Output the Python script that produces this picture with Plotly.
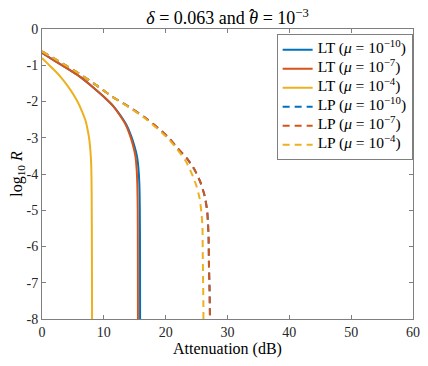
import plotly.graph_objects as go

# 값은 그림에서 읽음
lt_blue_x = [0, 2, 4, 6, 8, 10, 11.5, 12.5, 13.6, 14.35, 14.9, 15.35, 15.6, 15.75, 15.82, 15.85, 15.87]
lt_blue_y = [-0.66, -0.87, -1.08, -1.30, -1.57, -1.87, -2.12, -2.34, -2.63, -2.92, -3.2, -3.5, -3.85, -4.3, -5, -6, -8.5]

lt_red_x = [0, 2, 4, 6, 8, 10, 11.5, 12.5, 13.5, 14.2, 14.7, 15.1, 15.3, 15.42, 15.48, 15.5, 15.52]
lt_red_y = [-0.66, -0.87, -1.08, -1.30, -1.57, -1.87, -2.13, -2.36, -2.63, -2.92, -3.2, -3.5, -3.85, -4.3, -5, -6, -8.5]

lt_yel_x = [0, 1, 2.25, 3.3, 4.4, 5.3, 6.0, 6.6, 7.06, 7.4, 7.65, 7.85, 7.97, 8.03, 8.07, 8.1]
lt_yel_y = [-0.8, -0.97, -1.18, -1.38, -1.63, -1.87, -2.09, -2.33, -2.54, -2.8, -3.05, -3.4, -3.8, -4.5, -6, -8.5]

lp_red_x = [0, 3.3, 6, 8.7, 11.3, 14, 16.7, 19.4, 20.7, 22.0, 23.5, 24.7, 25.6, 26.3, 26.7, 26.85, 26.95, 27.0, 27.1, 27.2]
lp_red_y = [-0.62, -0.95, -1.23, -1.54, -1.86, -2.14, -2.45, -2.82, -3.04, -3.3, -3.58, -3.89, -4.22, -4.6, -5.0, -5.37, -5.8, -6.5, -7.2, -8.5]

lp_blue_x = lp_red_x
lp_blue_y = lp_red_y

lp_yel_x = [0, 3.3, 6, 8.7, 11.3, 14, 16.7, 19.4, 20.7, 21.9, 23.2, 24.2, 25.0, 25.5, 25.8, 25.95, 26.0, 26.1, 26.12]
lp_yel_y = [-0.62, -0.95, -1.23, -1.54, -1.86, -2.15, -2.47, -2.86, -3.08, -3.33, -3.63, -3.98, -4.34, -4.68, -5.09, -5.46, -6.22, -7.67, -8.5]

y_ticks = [0, -1, -2, -3, -4, -5, -6, -7, -8]
y_labels = ['0', '-1', '-2', '-3', '-4', '-5', '-6', '-7', '-8']
x_ticks = [0, 10, 20, 30, 40, 50, 60]

BLUE = '#0072BD'
RED = '#D95319'
YEL = '#EDB120'
FONT = 'Liberation Serif'


def leg(s):
    # 행 높이는 작은 글꼴로, 글자는 크게
    return '<span style="font-size:15.5px">' + s + '</span>'


series = [
    (lt_blue_x, lt_blue_y, BLUE, 'solid', 'LT (<i>μ</i> = 10<sup>−10</sup>)'),
    (lt_red_x, lt_red_y, RED, 'solid', 'LT (<i>μ</i> = 10<sup>−7</sup>)'),
    (lt_yel_x, lt_yel_y, YEL, 'solid', 'LT (<i>μ</i> = 10<sup>−4</sup>)'),
    (lp_blue_x, lp_blue_y, BLUE, '7px,5px', 'LP (<i>μ</i> = 10<sup>−10</sup>)'),
    (lp_red_x, lp_red_y, RED, '7px,5px', 'LP (<i>μ</i> = 10<sup>−7</sup>)'),
    (lp_yel_x, lp_yel_y, YEL, '7px,5px', 'LP (<i>μ</i> = 10<sup>−4</sup>)'),
]

fig = go.Figure()
for xs, ys, color, dash, name in series:
    fig.add_trace(go.Scatter(
        x=xs, y=ys, mode='lines', name=leg(name),
        line=dict(color=color, width=2, dash=dash, shape='spline', smoothing=0.6),
    ))

axis_style = dict(
    showline=True, linecolor='#7f7f7f', linewidth=1, mirror='ticks',
    ticks='inside', ticklen=4, tickcolor='#7f7f7f',
    showgrid=False, zeroline=False, automargin=False,
    ticklabeloverflow='allow',
    tickfont=dict(family=FONT, size=14, color='#262626'),
)

# 세타 위의 hat
fig.add_annotation(
    text='ˆ', xref='paper', yref='paper', x=0.567, y=1.085,
    showarrow=False, font=dict(family=FONT, size=18, color='#000'),
)

# 페이지 body 여백(8px) 만큼 줄임
fig.update_layout(
    width=412, height=350,
    margin=dict(l=34, r=7, t=21, b=39),
    paper_bgcolor='white', plot_bgcolor='white',
    font=dict(family=FONT, size=14, color='#262626'),
    title=dict(
        text='<i>δ</i> = 0.063 and <i>θ</i> = 10<sup>−3</sup>',
        xref='paper', x=0.5, xanchor='center', y=0.99, yanchor='top',
        font=dict(family=FONT, size=18, color='#000'),
    ),
    xaxis=dict(range=[0, 60], tickvals=x_ticks,
               title=dict(text='Attenuation (dB)', standoff=2,
                          font=dict(family=FONT, size=16, color='#000')),
               **axis_style),
    yaxis=dict(range=[-8, 0], tickvals=y_ticks, ticktext=y_labels,
               title=dict(text='log<sub>10</sub> <i>R</i>', standoff=2,
                          font=dict(family=FONT, size=16, color='#000')),
               **axis_style),
    legend=dict(
        x=0.999, xanchor='right', y=0.982, yanchor='top',
        bgcolor='white', bordercolor='#7f7f7f', borderwidth=1,
        font=dict(family=FONT, size=8.9, color='#000'),
        tracegroupgap=0, itemwidth=30,
    ),
    showlegend=True,
)

fig.write_html("out.html")
